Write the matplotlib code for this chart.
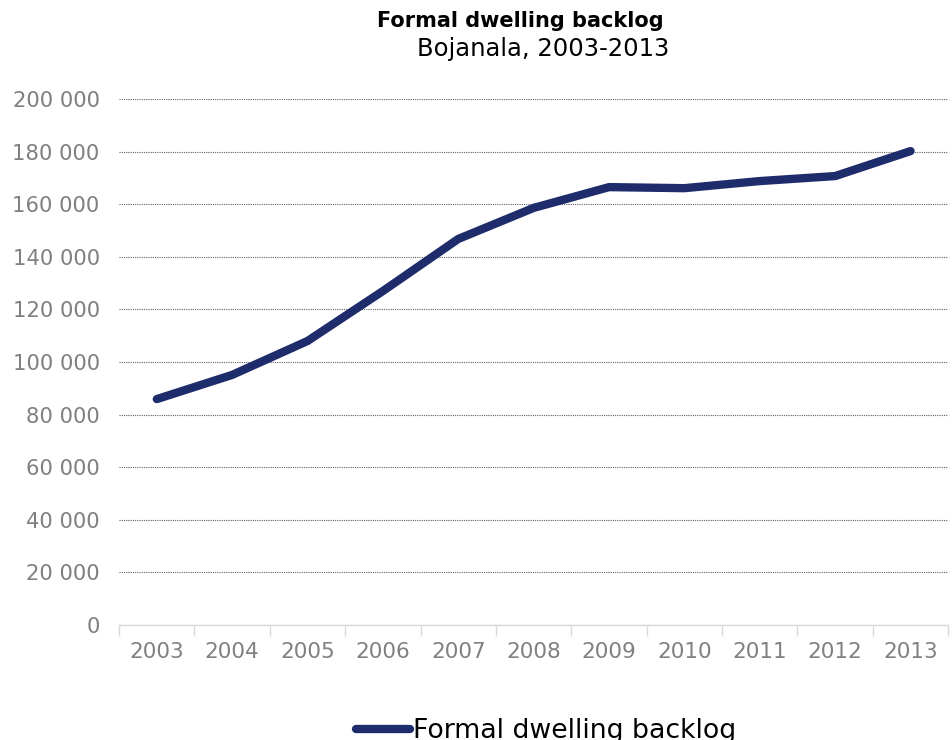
import matplotlib.pyplot as plt
from matplotlib.ticker import FuncFormatter, FixedLocator

# Formal dwelling backlog, Bojanala district
years = ["2003", "2004", "2005", "2006", "2007", "2008",
         "2009", "2010", "2011", "2012", "2013"]
backlog = [85900, 95100, 108000, 127000, 146800, 158600,
           166500, 166100, 168800, 170700, 180200]

navy = "#1f2c6c"
grey_txt = "#808080"

fig = plt.figure(figsize=(9.53, 7.4), dpi=100)
ax = fig.add_axes([0.125, 0.1554, 0.870, 0.7108])

x = list(range(len(years)))
ax.plot(x, backlog, color=navy, linewidth=6, solid_capstyle="round",
        solid_joinstyle="round", label="Formal dwelling backlog", zorder=3)

ax.set_xlim(-0.5, len(years) - 0.5)
ax.set_ylim(0, 200000)
ax.set_yticks(range(0, 200001, 20000))
ax.yaxis.set_major_formatter(FuncFormatter(lambda v, p: f"{int(v):,}".replace(",", " ")))
ax.grid(axis="y", color="#606060", linestyle=(0, (1, 1)), linewidth=0.8)
ax.set_axisbelow(True)

# category labels centred, tick marks on the category boundaries
ax.set_xticks(x)
ax.set_xticklabels(years)
ax.xaxis.set_minor_locator(FixedLocator([i - 0.5 for i in range(len(years) + 1)]))
ax.tick_params(axis="x", which="major", length=0, pad=12, labelsize=15.5, labelcolor=grey_txt)
ax.tick_params(axis="x", which="minor", length=8, color="#d9d9d9", width=1)
ax.tick_params(axis="y", length=0, pad=14, labelsize=15.2, labelcolor=grey_txt)

for s in ["top", "right", "left"]:
    ax.spines[s].set_visible(False)
ax.spines["bottom"].set_color("#d9d9d9")
ax.spines["bottom"].set_linewidth(1)

fig.text(0.546, 0.972, "Formal dwelling backlog", ha="center", va="center",
         fontsize=15, fontweight="bold", color="black")
fig.text(0.570, 0.934, "Bojanala, 2003-2013", ha="center", va="center",
         fontsize=17.5, color="black")

fig.legend(loc="center", bbox_to_anchor=(0.573, 0.012), frameon=False,
           fontsize=19.3, handlelength=2.0, handletextpad=0.1)

fig.savefig("out.png", dpi=100)
